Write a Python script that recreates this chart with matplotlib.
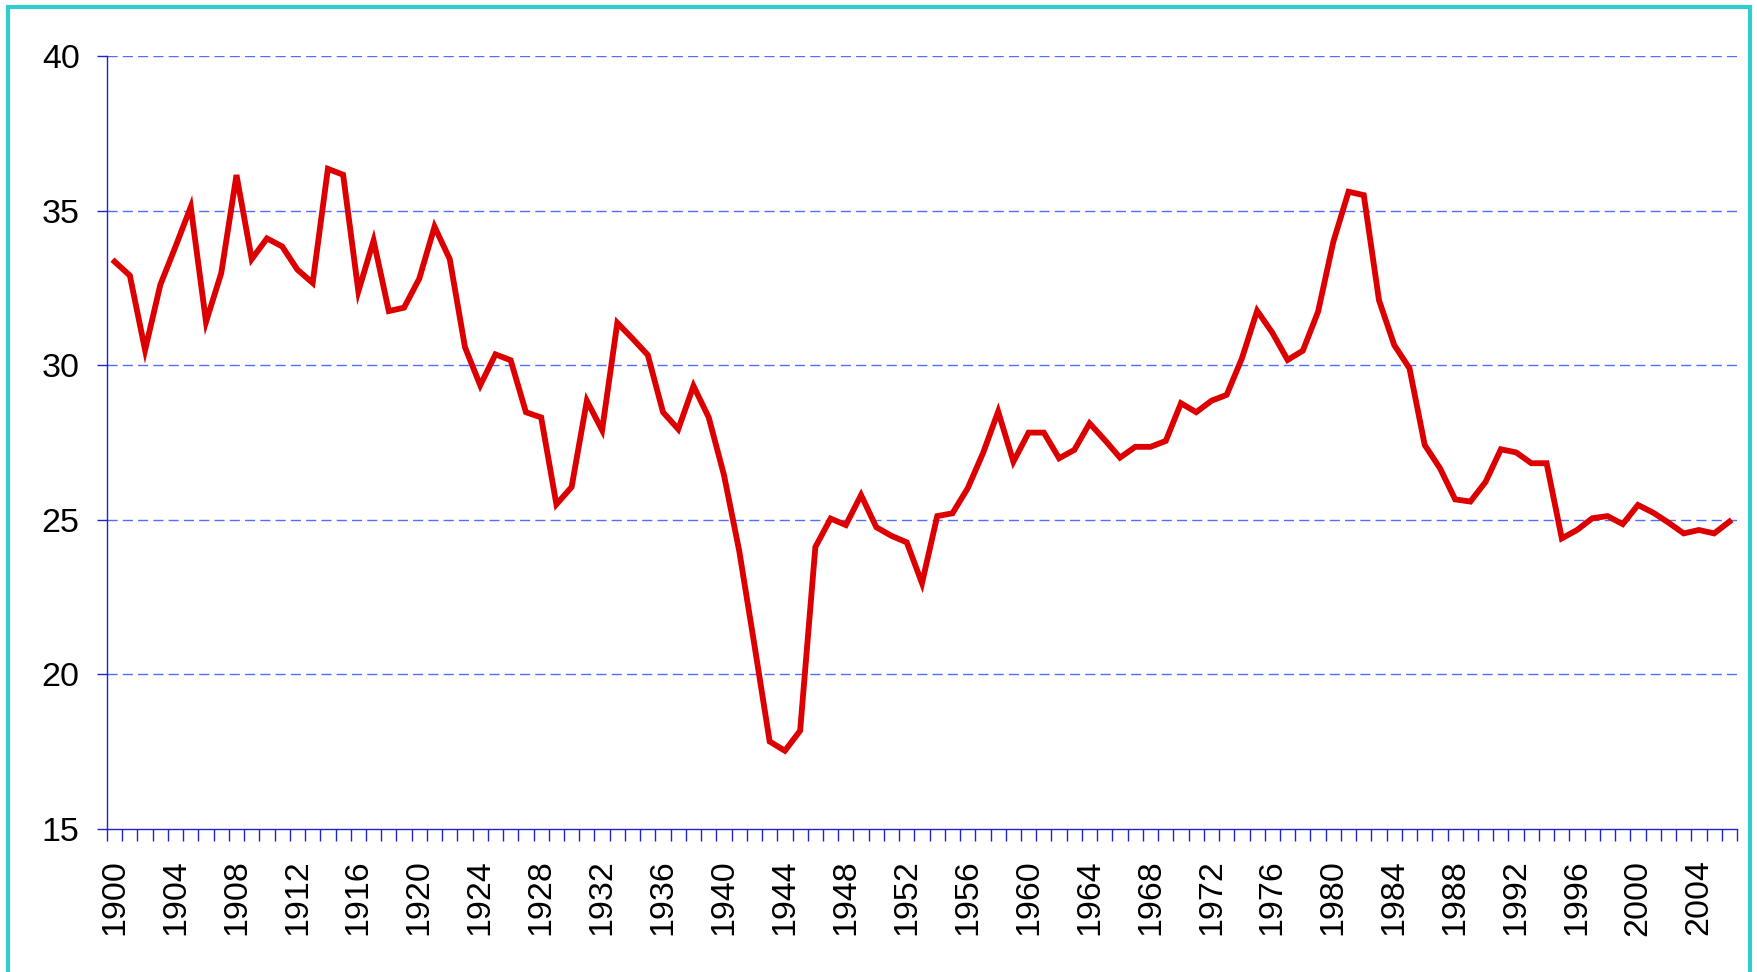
import matplotlib
matplotlib.use("Agg")
import matplotlib.pyplot as plt
from matplotlib.patches import Rectangle
from matplotlib.ticker import FixedLocator, NullFormatter

plt.rcParams['font.family'] = ['Liberation Sans', 'DejaVu Sans']

years = list(range(1900, 2007))
values = [
    33.35, 32.90, 30.49, 32.60, 33.84, 35.12, 31.40, 32.98, 36.15, 33.43,
    34.10, 33.84, 33.09, 32.66, 36.35, 36.16, 32.39, 34.03, 31.75, 31.86,
    32.80, 34.48, 33.43, 30.58, 29.35, 30.35, 30.16, 28.48, 28.31, 25.50,
    26.06, 28.85, 27.90, 31.37, 30.86, 30.33, 28.48, 27.93, 29.33, 28.31,
    26.45, 24.00, 20.95, 17.83, 17.53, 18.18, 24.12, 25.04, 24.83, 25.80,
    24.76, 24.48, 24.27, 22.95, 25.12, 25.21, 26.02, 27.15, 28.50, 26.88,
    27.82, 27.82, 26.99, 27.26, 28.12, 27.58, 27.01, 27.36, 27.36, 27.55,
    28.77, 28.48, 28.85, 29.04, 30.22, 31.76, 31.05, 30.17, 30.47, 31.73,
    33.99, 35.61, 35.50, 32.10, 30.65, 29.90, 27.42, 26.67, 25.66, 25.59,
    26.23, 27.28, 27.18, 26.83, 26.83, 24.40, 24.67, 25.05, 25.12, 24.86,
    25.48, 25.23, 24.91, 24.56, 24.67, 24.56, 24.94,
]
y_ticks = [15, 20, 25, 30, 35, 40]
label_years = [y for y in years if (y - 1900) % 4 == 0]

W, H = 1758, 972
fig = plt.figure(figsize=(W / 100, H / 100), dpi=100)
fig.patch.set_facecolor('white')

ax = fig.add_axes([107 / W, 1 - 829 / H, (1737 - 107) / W, (829 - 56) / H])

n = len(years)
xpos = [i + 0.5 for i in range(n)]
ax.plot(xpos, values, color='#DD0000', linewidth=4.2, solid_joinstyle='miter',
        zorder=3, clip_on=False)

ax.set_xlim(0, n)
ax.set_ylim(15, 40)

axis_color = '#2222CC'
grid_color = '#4F6FFF'

for y in y_ticks[1:]:
    ax.axhline(y, color=grid_color, linewidth=1.0, linestyle=(0, (7.3, 3.7)), zorder=1)

for s in ['top', 'right']:
    ax.spines[s].set_visible(False)
for s in ['left', 'bottom']:
    ax.spines[s].set_color(axis_color)
    ax.spines[s].set_linewidth(1.0)

ax.set_yticks(y_ticks)
ax.set_yticklabels([str(v) for v in y_ticks])
ax.tick_params(axis='y', which='major', direction='out', length=7.2, width=1.0,
               color=axis_color, labelsize=24.5, pad=12.5, labelcolor='black')

# category boundary ticks
ax.xaxis.set_minor_locator(FixedLocator(list(range(n + 1))))
ax.xaxis.set_minor_formatter(NullFormatter())
ax.tick_params(axis='x', which='minor', direction='out', length=8.4, width=1.0,
               color=axis_color)
label_pos = [years.index(y) + 0.5 for y in label_years]
ax.set_xticks(label_pos)
ax.set_xticklabels([str(y) for y in label_years], rotation=90)
ax.tick_params(axis='x', which='major', length=0, labelsize=24.5, pad=22,
               labelcolor='black')

fig.patches.append(Rectangle((8 / W, -0.05), (1750 - 8) / W, 1.05 - 7 / H,
                             transform=fig.transFigure, fill=False,
                             edgecolor='#33CCCC', linewidth=3.0))

fig.savefig('out.png', dpi=100, facecolor='white')
